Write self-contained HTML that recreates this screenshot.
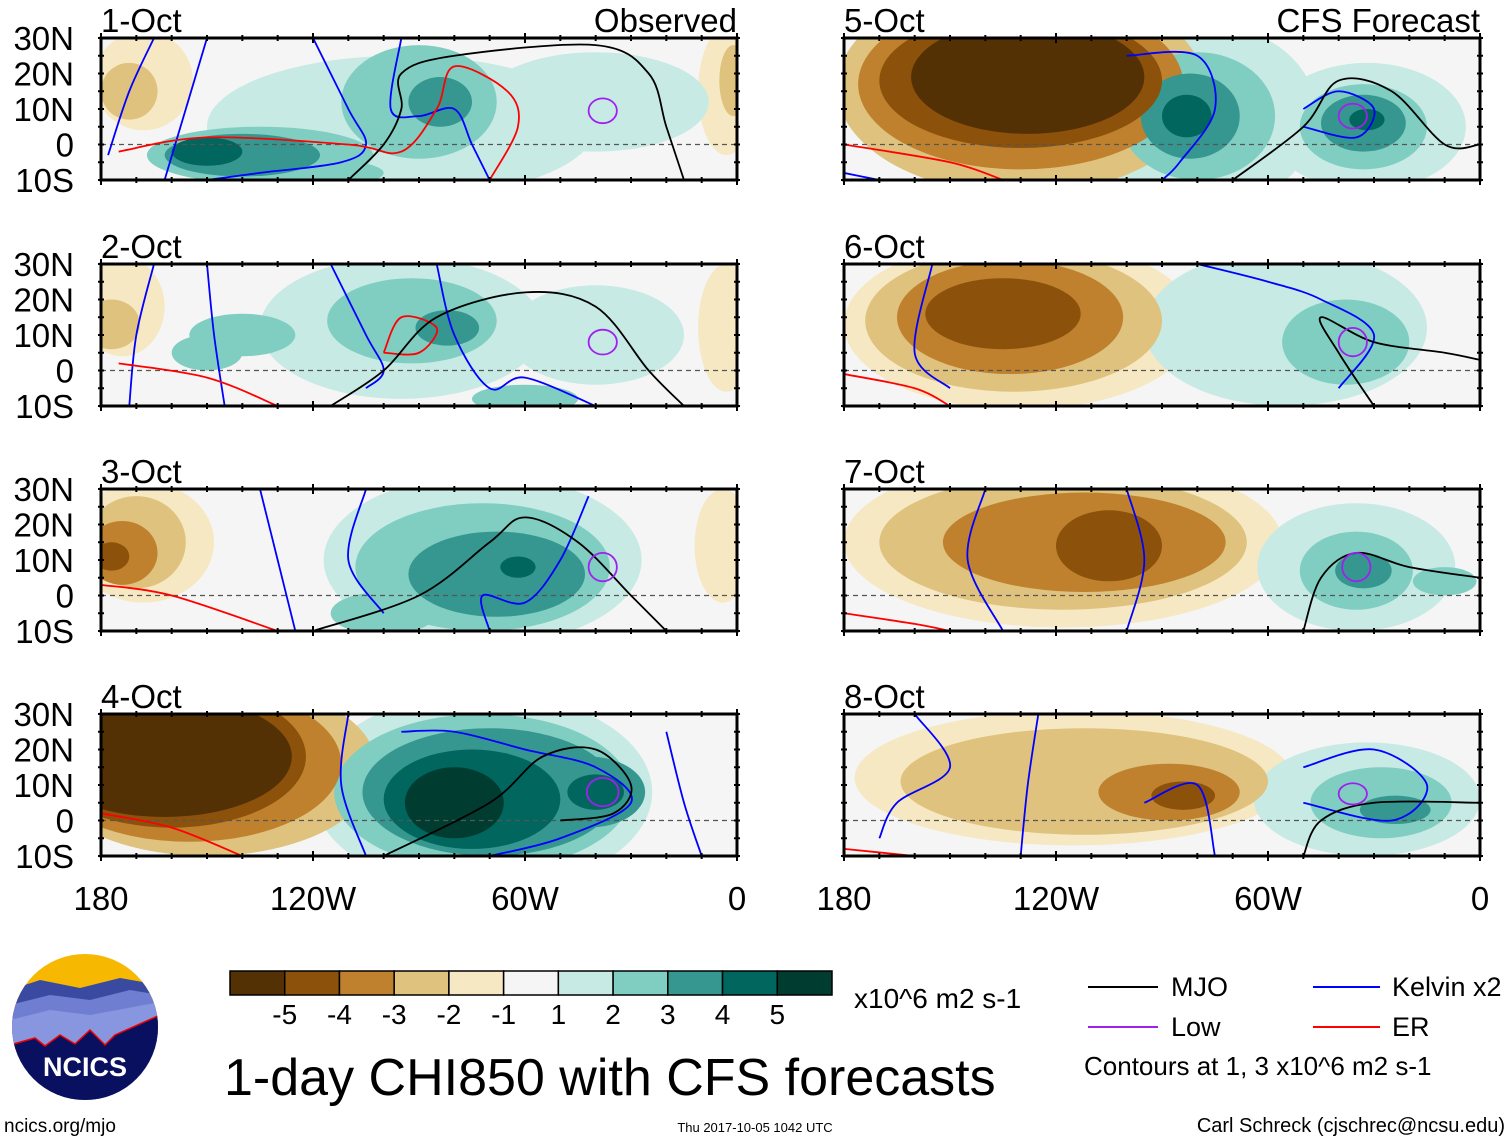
<!DOCTYPE html>
<html><head><meta charset="utf-8">
<style>
body{margin:0;background:#fff;width:1510px;height:1142px;overflow:hidden;font-family:"Liberation Sans",sans-serif}
svg text{font-family:"Liberation Sans",sans-serif}
</style></head>
<body>
<svg id="chart" width="1510" height="1142" viewBox="0 0 1510 1142" xmlns="http://www.w3.org/2000/svg">
<g id="panels"></g>
<g id="colorbar"></g>
<g>
 <defs><clipPath id="logoclip"><circle cx="85" cy="1027" r="73"/></clipPath></defs>
 <g clip-path="url(#logoclip)">
  <rect x="10" y="950" width="150" height="160" fill="#f6b800"/>
  <path d="M10 990 L40 980 L80 988 L120 978 L160 985 L160 1110 L10 1110Z" fill="#3a4aa0"/>
  <path d="M10 1005 L50 995 L90 1000 L130 990 L160 995 L160 1110 L10 1110Z" fill="#6f7ed0"/>
  <path d="M10 1020 L50 1010 L90 1015 L160 1002 L160 1110 L10 1110Z" fill="#8896e0"/>
  <path d="M10 1045 L35 1038 L45 1046 L60 1035 L75 1044 L90 1030 L105 1045 L115 1035 L160 1015 L160 1110 L10 1110Z" fill="#0a1060" stroke="#e00" stroke-width="1.5"/>
 </g>
 <text x="85" y="1076" text-anchor="middle" font-size="27" font-weight="bold" fill="#fff">NCICS</text>
</g>
<text x="4" y="1132" font-size="19">ncics.org/mjo</text>
<text x="224" y="1095" font-size="52">1-day CHI850 with CFS forecasts</text>
<text x="854" y="1008" font-size="28">x10^6 m2 s-1</text>
<text x="755" y="1132" font-size="13" text-anchor="middle">Thu 2017-10-05 1042 UTC</text>
<text x="1505" y="1132" font-size="20" text-anchor="end">Carl Schreck (cjschrec@ncsu.edu)</text>
<g>
 <line x1="1088" y1="987" x2="1158" y2="987" stroke="#000" stroke-width="2"/>
 <text x="1171" y="996" font-size="27">MJO</text>
 <line x1="1313" y1="987" x2="1380" y2="987" stroke="#00f" stroke-width="2"/>
 <text x="1392" y="996" font-size="27">Kelvin x2</text>
 <line x1="1088" y1="1027" x2="1158" y2="1027" stroke="#a020f0" stroke-width="2"/>
 <text x="1171" y="1036" font-size="27">Low</text>
 <line x1="1313" y1="1027" x2="1380" y2="1027" stroke="#f00" stroke-width="2"/>
 <text x="1392" y="1036" font-size="27">ER</text>
 <text x="1084" y="1075" font-size="26">Contours at 1, 3 x10^6 m2 s-1</text>
</g>
</svg>
<script>
const NS="http://www.w3.org/2000/svg";
const levelColors=["#543005","#8c510a","#bf812d","#dfc27d","#f6e8c3","#f5f5f5","#c7eae5","#80cdc1","#35978f","#01665e","#003c30"];
const levelLabels=["-5","-4","-3","-2","-1","1","2","3","4","5"];
const lonTicks=["180","120W","60W","0"];
const latTicks=["30N","20N","10N","0","10S"];
const panelDates=["1-Oct","2-Oct","3-Oct","4-Oct","5-Oct","6-Oct","7-Oct","8-Oct"];
// blobs: [lonW, lat, halfWidthDeg, halfHeightDeg, level]
const blobs1=[[168,18,14,14,-1],[172,15,8,8,-2],[3,15,8,18,-1],[1,18,4,10,-2],[95,5,55,20,1],[90,12,22,16,2],[135,-3,32,8,2],[140,-3,22,6,3],[150,-2,10,4,4],[84,12,9,7,3],[40,12,32,14,1],[120,-8,20,4,2]];
const blobs2=[[174,18,12,14,-1],[177,13,8,7,-2],[3,12,8,18,-1],[95,12,40,20,1],[92,14,24,12,2],[82,12,9,5,3],[140,10,15,6,2],[150,5,10,5,2],[40,10,25,14,1],[60,-8,15,4,2]];
const blobs3=[[168,15,20,17,-1],[170,15,14,13,-2],[174,12,10,9,-3],[177,11,5,4,-4],[4,14,8,16,-1],[72,10,45,24,1],[72,8,36,18,2],[68,6,25,12,3],[62,8,5,3,4],[100,-5,15,6,2]];
const blobs4=[[150,15,48,25,-2],[155,16,43,22,-3],[160,18,38,20,-4],[162,18,36,17,-5],[165,0,20,6,-2],[72,8,48,28,1],[72,8,42,22,2],[70,8,36,18,3],[75,6,25,14,4],[80,5,14,10,5],[42,8,16,10,3],[40,8,8,5,4]];
const blobs5=[[130,16,52,30,-2],[130,17,46,24,-3],[130,18,40,19,-4],[128,19,33,16,-5],[78,8,32,26,1],[80,8,22,18,2],[82,8,14,12,3],[83,8,7,6,4],[32,5,28,18,1],[33,5,18,12,2],[33,6,12,8,3],[32,7,5,3,4]];
const blobs6=[[130,13,50,24,-1],[132,14,42,20,-2],[133,15,32,16,-3],[135,16,22,10,-4],[55,12,40,22,1],[38,8,18,12,2]];
const blobs7=[[118,15,62,24,-1],[118,15,52,19,-2],[112,15,40,14,-3],[105,14,15,10,-4],[35,8,28,18,1],[35,7,16,11,2],[33,7,8,5,3],[10,4,9,4,2]];
const blobs8=[[115,12,62,19,-1],[112,11,52,15,-2],[88,8,20,8,-3],[84,7,9,4,-4],[32,6,32,16,1],[28,5,20,10,2],[24,3,10,4,3]];
const blobSets=[blobs1,blobs2,blobs3,blobs4,blobs5,blobs6,blobs7,blobs8];
// contour lines: [color, [[lonW,lat],...]]
const lines1=[["#00f",[[165,30],[172,15],[178,-3]]],["#00f",[[150,30],[156,10],[162,-10]]],["#00f",[[120,30],[110,10],[105,0],[112,-5],[135,-8],[150,-10]]],["#00f",[[95,30],[98,10],[90,8],[80,10],[75,0],[70,-10]]],["#f00",[[175,-2],[150,2],[110,0],[95,-2],[85,10],[80,22],[65,15],[62,5],[70,-10]]],["#000",[[110,-10],[100,0],[95,10],[95,20],[80,25],[40,28],[25,20],[20,5],[15,-10]]]];
const lines2=[["#00f",[[165,30],[170,10],[172,-10]]],["#00f",[[150,30],[148,10],[145,-10]]],["#00f",[[115,30],[105,10],[100,0],[105,-5]]],["#00f",[[85,30],[80,10],[70,-5],[60,-2],[40,-10]]],["#f00",[[175,2],[150,-2],[130,-10]]],["#f00",[[100,5],[95,15],[85,12],[90,5],[100,5]]],["#000",[[115,-10],[100,0],[85,15],[60,22],[40,18],[25,0],[15,-10]]]];
const lines3=[["#00f",[[135,30],[130,10],[125,-10]]],["#00f",[[105,30],[110,10],[100,-5]]],["#00f",[[70,-10],[72,0],[60,-2],[50,10],[42,28]]],["#f00",[[180,3],[160,0],[130,-10]]],["#000",[[120,-10],[90,0],[70,15],[60,22],[45,15],[30,0],[20,-10]]]];
const lines4=[["#00f",[[110,30],[112,10],[105,-10]]],["#00f",[[95,25],[80,25],[60,20],[40,15],[30,5],[50,-5],[70,-10]]],["#00f",[[20,25],[15,5],[10,-10]]],["#f00",[[180,2],[160,-2],[140,-10]]],["#000",[[100,-10],[70,5],[55,18],[40,20],[30,10],[35,2],[50,0]]]];
const lines5=[["#f00",[[180,0],[150,-5],[135,-10]]],["#00f",[[180,-8],[170,-10]]],["#00f",[[100,25],[80,25],[75,10],[85,-5],[90,-10]]],["#00f",[[50,10],[40,15],[30,10],[35,2],[50,5]]],["#000",[[70,-10],[50,5],[40,18],[25,15],[10,0],[0,0]]]];
const lines6=[["#00f",[[155,30],[160,5],[150,-5]]],["#00f",[[80,30],[60,25],[45,20],[30,10],[40,-5]]],["#f00",[[180,-1],[160,-5],[150,-10]]],["#000",[[30,-10],[40,5],[45,15],[30,8],[10,5],[0,3]]]];
const lines7=[["#00f",[[140,30],[145,10],[135,-10]]],["#00f",[[100,30],[95,10],[100,-10]]],["#f00",[[180,-5],[160,-8],[150,-10]]],["#000",[[50,-10],[45,5],[35,12],[20,8],[0,5]]]];
const lines8=[["#00f",[[160,30],[150,15],[165,5],[170,-5]]],["#00f",[[125,30],[128,10],[130,-10]]],["#00f",[[95,5],[80,10],[75,-10]]],["#00f",[[50,15],[30,20],[15,10],[25,0],[50,5]]],["#f00",[[180,-8],[160,-10]]],["#000",[[50,-10],[45,0],[30,5],[0,5]]]];
const lineSets=[lines1,lines2,lines3,lines4,lines5,lines6,lines7,lines8];
// low-pressure contours: [lonW, lat, rLon, rLat]
const lows=[[38,9.5,4,3.5],[38,8,4,3.5],[38,8,4,4],[38,8,4.5,4],[36,8,4,3.5],[36,8,4,4],[35,8,4,4],[36,7.5,4,3]];

const colX=[101,844], rowY=[38,264,489,714], PW=636, PH=142;
function xScale(lonW,x0){return x0+(180-lonW)*PW/180;}
function yScale(lat,y0){return y0+(30-lat)*PH/40;}
function mk(tag,attrs,parent){const e=document.createElementNS(NS,tag);for(const k in attrs)e.setAttribute(k,attrs[k]);parent.appendChild(e);return e;}
function smooth(pts){let d='M'+pts[0][0]+' '+pts[0][1];for(let i=0;i<pts.length-1;i++){const p0=pts[Math.max(0,i-1)],p1=pts[i],p2=pts[i+1],p3=pts[Math.min(pts.length-1,i+2)];
 d+=' C'+(p1[0]+(p2[0]-p0[0])/6)+' '+(p1[1]+(p2[1]-p0[1])/6)+' '+(p2[0]-(p3[0]-p1[0])/6)+' '+(p2[1]-(p3[1]-p1[1])/6)+' '+p2[0]+' '+p2[1];}return d;}
const panels=document.getElementById('panels');
const defs=mk('defs',{},panels);
for(let p=0;p<8;p++){
  const col=p<4?0:1,row=p%4,x0=colX[col],y0=rowY[row];
  const g=mk('g',{},panels);
  
  
  const cp=mk('clipPath',{id:'cp'+p},defs);mk('rect',{x:x0,y:y0,width:PW,height:PH},cp);
  const inner=mk('g',{'clip-path':'url(#cp'+p+')'},g);
  mk('rect',{x:x0,y:y0,width:PW,height:PH,fill:'#f5f5f5'},inner);
  const bl=blobSets[p].slice().sort((a,b)=>Math.abs(a[4])-Math.abs(b[4]));
  bl.forEach(b=>{
    const idx=b[4]+5;
    const el=mk('ellipse',{cx:xScale(b[0],x0),cy:yScale(b[1],y0),rx:b[2]*PW/180,ry:b[3]*PH/40,fill:levelColors[idx]},inner);
    
    
  });
  mk('line',{x1:x0,y1:yScale(0,y0),x2:x0+PW,y2:yScale(0,y0),stroke:'#555','stroke-dasharray':'5,4','stroke-width':1.2},inner);
  lineSets[p].forEach(l=>{
    const pts=l[1].map(q=>[xScale(q[0],x0),yScale(q[1],y0)]);
    const pl=mk('path',{d:smooth(pts),fill:'none',stroke:l[0],'stroke-width':1.8},inner);
    
    
  });
  const lo=lows[p];
  const le=mk('ellipse',{cx:xScale(lo[0],x0),cy:yScale(lo[1],y0),rx:lo[2]*PW/180,ry:lo[3]*PH/40,fill:'none',stroke:'#a020f0','stroke-width':1.8},inner);
  
  
  mk('rect',{x:x0,y:y0,width:PW,height:PH,fill:'none',stroke:'#000','stroke-width':3},g);
  for(let lon=0;lon<=180;lon+=10){
    const x=xScale(lon,x0),big=lon%60===0;
    mk('line',{x1:x,y1:y0-(big?5:3),x2:x,y2:y0+(big?5:3),stroke:'#000','stroke-width':2},g);
    mk('line',{x1:x,y1:y0+PH-(big?5:3),x2:x,y2:y0+PH+(big?5:3),stroke:'#000','stroke-width':2},g);
  }
  for(let lat=-10;lat<=30;lat+=5){
    const y=yScale(lat,y0);
    mk('line',{x1:x0-3,y1:y,x2:x0+3,y2:y,stroke:'#000','stroke-width':2},g);
    mk('line',{x1:x0+PW-3,y1:y,x2:x0+PW+3,y2:y,stroke:'#000','stroke-width':2},g);
  }
  const t=mk('text',{x:x0,y:y0-6,'font-size':33},g);t.textContent=panelDates[p];
  
  if(row===0){const r=mk('text',{x:x0+PW,y:y0-6,'font-size':33,'text-anchor':'end'},g);r.textContent=col===0?'Observed':'CFS Forecast';
    }
  if(col===0){latTicks.forEach((lb,i)=>{const tt=mk('text',{x:74,y:yScale(30-10*i,y0)+12,'font-size':33,'text-anchor':'end'},g);tt.textContent=lb;
    });}
  if(row===3){lonTicks.forEach((lb,i)=>{const tt=mk('text',{x:xScale(180-60*i,x0),y:910,'font-size':33,'text-anchor':'middle'},g);tt.textContent=lb;
    });}
}
const cb=document.getElementById('colorbar');
const cbx=230,cbw=602/11;
levelColors.forEach((c,i)=>{
  const r=mk('rect',{x:cbx+i*cbw,y:971,width:cbw,height:24,fill:c,stroke:'#000','stroke-width':1.5},cb);
  
});
levelLabels.forEach((lb,i)=>{
  const t=mk('text',{x:cbx+(i+1)*cbw,y:1024,'font-size':28,'text-anchor':'middle'},cb);t.textContent=lb;
  
});
</script>
</body></html>
